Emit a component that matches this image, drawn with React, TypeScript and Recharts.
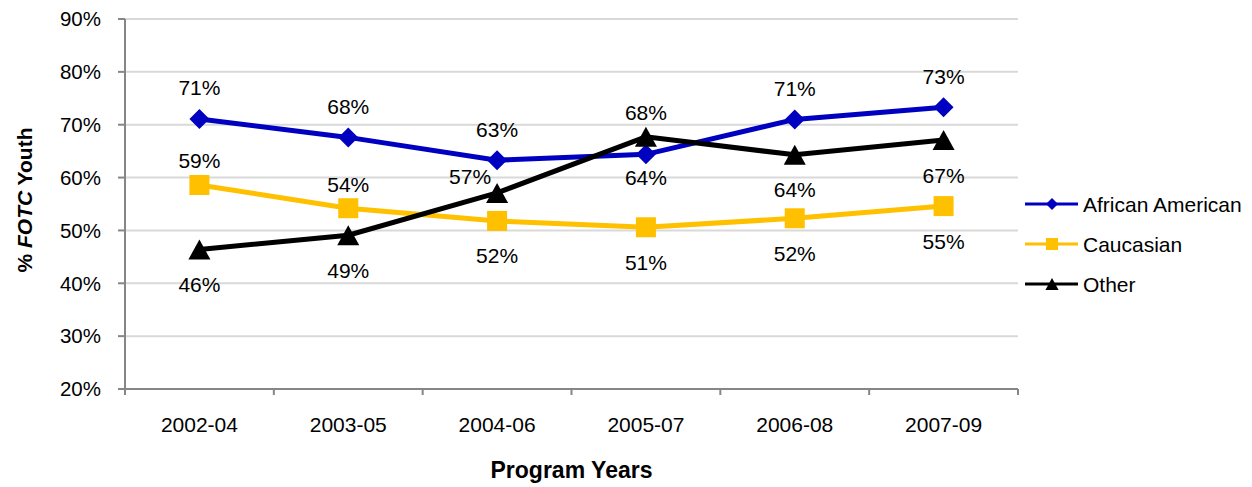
import React from 'react'
import {
  LineChart, Line, XAxis, YAxis, CartesianGrid, LabelList,
} from 'recharts'

const YEARS = ['2002-04', '2003-05', '2004-06', '2005-07', '2006-08', '2007-09']
const AFRICAN_AMERICAN = [71.1, 67.6, 63.3, 64.4, 71.0, 73.3]
const CAUCASIAN = [58.6, 54.2, 51.8, 50.6, 52.3, 54.6]
const OTHER = [46.4, 49.1, 57.1, 67.7, 64.3, 67.1]
const Y_TICKS = [20, 30, 40, 50, 60, 70, 80, 90]

// where Excel put each data label relative to its marker
const AA_PLACE = ['above', 'above', 'above', 'below-near', 'above', 'above']
const CAUC_PLACE = ['above-near', 'above-near', 'below', 'below', 'below', 'below']
const OTHER_PLACE = ['below', 'below', 'left', 'above-near', 'below', 'below']

const FONT = '"Liberation Sans", Arial, sans-serif'
const BLUE = '#0000C0'
const GOLD = '#FFC000'
const AXIS = '#868686'

const data = YEARS.map((year, i) => ({
  x: i + 0.5,
  year,
  aa: AFRICAN_AMERICAN[i],
  cauc: CAUCASIAN[i],
  other: OTHER[i],
}))

const xTicks = Array.from({ length: YEARS.length * 2 + 1 }, (_, i) => i / 2)

function Marker({ shape, cx, cy, color, s = 1 }: any) {
  if (cx == null || cy == null) return null
  if (shape === 'diamond') {
    const r = 10 * s
    return <polygon points={`${cx},${cy - r} ${cx + r},${cy} ${cx},${cy + r} ${cx - r},${cy}`} fill={color} />
  }
  if (shape === 'square') {
    const r = 10 * s
    return <rect x={cx - r} y={cy - r} width={r * 2} height={r * 2} fill={color} />
  }
  const w = 11 * s
  const h = 10 * s
  return <polygon points={`${cx},${cy - h} ${cx + w},${cy + h} ${cx - w},${cy + h}`} fill={color} />
}

const dotFor = (shape: string, color: string) => (p: any) =>
  <Marker key={p.index} shape={shape} cx={p.cx} cy={p.cy} color={color} />

const labelFor = (places: string[]) => (p: any) => {
  const place = places[p.index]
  let x = p.x
  let y = p.y
  if (place === 'above') y -= 31
  else if (place === 'above-near') y -= 24
  else if (place === 'below') y += 35
  else if (place === 'below-near') y += 23
  else if (place === 'left') { x -= 27; y -= 16 }
  return (
    <text x={x} y={y} textAnchor="middle" dominantBaseline="central"
      fontSize={21} fontFamily={FONT} fill="#000">
      {Math.round(p.value)}%
    </text>
  )
}

function XTick({ x, y, payload }: any) {
  const v = payload.value
  if (Number.isInteger(v)) {
    return <line x1={x} x2={x} y1={y} y2={y + 6} stroke={AXIS} strokeWidth={2} />
  }
  return (
    <text x={x} y={y + 35} textAnchor="middle" dominantBaseline="central"
      fontSize={21} fontFamily={FONT} fill="#000">
      {YEARS[Math.floor(v)]}
    </text>
  )
}

function YTitle({ viewBox }: any) {
  const cx = viewBox.x - 36
  const cy = viewBox.y + viewBox.height / 2 - 4
  return (
    <text x={cx} y={cy} transform={`rotate(-90 ${cx} ${cy})`} textAnchor="middle"
      dominantBaseline="central" fontSize={21} fontWeight="bold" fontFamily={FONT} fill="#000">
      % <tspan fontStyle="italic">FOTC</tspan> Youth
    </text>
  )
}

function XTitle({ viewBox }: any) {
  return (
    <text x={viewBox.x + viewBox.width / 2} y={viewBox.y + 81} textAnchor="middle"
      dominantBaseline="central" fontSize={23} fontWeight="bold" fontFamily={FONT} fill="#000">
      Program Years
    </text>
  )
}

const SERIES = [
  { name: 'African American', color: BLUE, shape: 'diamond' },
  { name: 'Caucasian', color: GOLD, shape: 'square' },
  { name: 'Other', color: '#000', shape: 'triangle' },
]

function LegendBox() {
  return (
    <svg width={232} height={120} style={{ position: 'absolute', left: 1020, top: 185 }}>
      {SERIES.map((s, i) => {
        const y = 19 + i * 40
        return (
          <g key={s.name}>
            <line x1={5} x2={58} y1={y} y2={y} stroke={s.color} strokeWidth={3} />
            <Marker shape={s.shape} cx={32} cy={y} color={s.color} s={0.6} />
            <text x={63} y={y} dominantBaseline="central" fontSize={21} fontFamily={FONT} fill="#000">
              {s.name}
            </text>
          </g>
        )
      })}
    </svg>
  )
}

export default function App() {
  return (
    <div style={{ position: 'absolute', left: 0, top: 0, width: 1252, height: 487, background: '#fff' }}>
      <LineChart width={1252} height={487} data={data}
        margin={{ top: 19, right: 234, bottom: 58, left: 60 }}>
        <CartesianGrid vertical={false} stroke="#D9D9D9" strokeWidth={2} />
        <XAxis dataKey="x" type="number" domain={[0, YEARS.length]} ticks={xTicks} interval={0}
          allowDecimals height={40} tickLine={false} tickSize={0} tickMargin={0}
          axisLine={{ stroke: AXIS, strokeWidth: 2 }} tick={<XTick />} label={<XTitle />} />
        <YAxis type="number" domain={[20, 90]} ticks={Y_TICKS} interval={0} width={65}
          tickFormatter={(v: number) => `${v}%`} tickSize={7} tickMargin={17}
          tick={{ fontSize: 20.5, fill: '#000', fontFamily: FONT }}
          tickLine={{ stroke: AXIS, strokeWidth: 2 }} axisLine={{ stroke: AXIS, strokeWidth: 2 }}
          label={<YTitle />} />
        <Line dataKey="aa" name="African American" stroke={BLUE} strokeWidth={5}
          dot={dotFor('diamond', BLUE)} activeDot={false} isAnimationActive={false}>
          <LabelList dataKey="aa" content={labelFor(AA_PLACE)} />
        </Line>
        <Line dataKey="cauc" name="Caucasian" stroke={GOLD} strokeWidth={5}
          dot={dotFor('square', GOLD)} activeDot={false} isAnimationActive={false}>
          <LabelList dataKey="cauc" content={labelFor(CAUC_PLACE)} />
        </Line>
        <Line dataKey="other" name="Other" stroke="#000" strokeWidth={5}
          dot={dotFor('triangle', '#000')} activeDot={false} isAnimationActive={false}>
          <LabelList dataKey="other" content={labelFor(OTHER_PLACE)} />
        </Line>
      </LineChart>
      <LegendBox />
    </div>
  )
}
